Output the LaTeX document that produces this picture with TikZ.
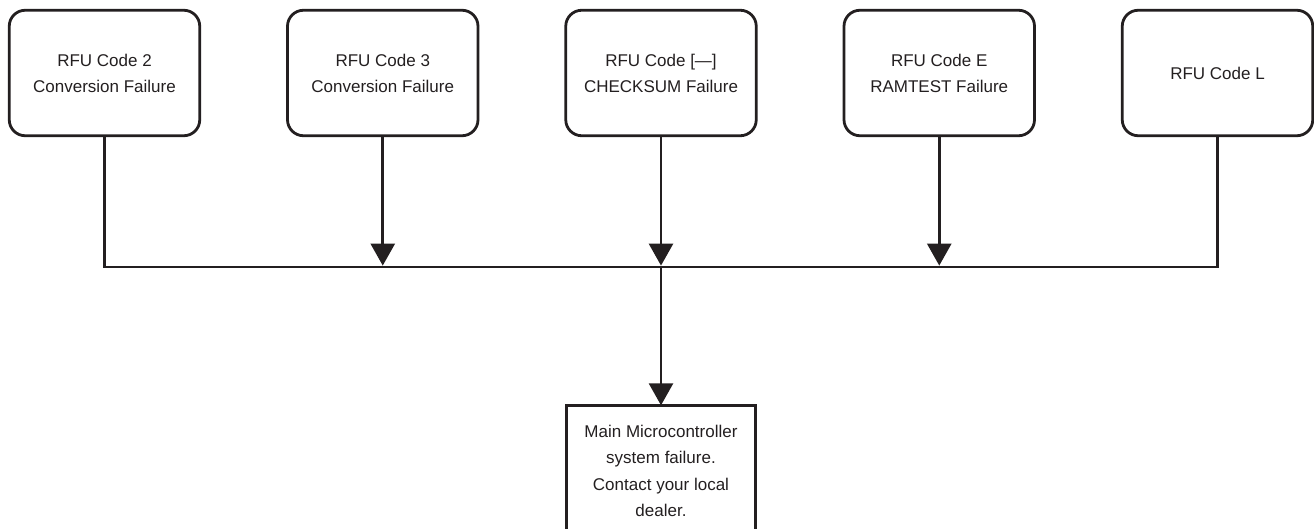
\documentclass[tikz,border=0pt]{standalone}
\usepackage{fontspec}
\setmainfont{Liberation Sans}
\usetikzlibrary{arrows.meta}
\definecolor{ink}{RGB}{35,31,32}
\tikzset{
  codebox/.style={draw=ink, line width=2.8pt, rounded corners=16pt, minimum width=190.5pt, minimum height=125.5pt, inner sep=0pt, outer sep=0pt, align=center, font=\fontsize{17}{26}\selectfont, text=ink},
  endbox/.style={draw=ink, line width=2.8pt, minimum width=189.5pt, inner xsep=0pt, inner ysep=19.5pt, outer sep=0pt, align=center, font=\fontsize{17}{26.6}\selectfont, text=ink, anchor=north},
  conn/.style={draw=ink, line width=2.8pt},
  arr/.style={conn, -{Triangle[length=22pt,width=24pt]}}
}
\begin{document}
\begin{tikzpicture}[x=1pt,y=-1pt]
\useasboundingbox (0,0) rectangle (1314,529);
\clip (0,0) rectangle (1314,529);
\node[codebox] (b1) at (104.5,73) {RFU Code 2\\Conversion Failure};
\node[codebox] (b2) at (382.75,73) {RFU Code 3\\Conversion Failure};
\node[codebox] (b3) at (661,73) {RFU Code [—]\\CHECKSUM Failure};
\node[codebox] (b4) at (939.25,73) {RFU Code E\\RAMTEST Failure};
\node[codebox] (b5) at (1217.5,73) {RFU Code L};
\coordinate (j) at (661,267);
\node[endbox] (m) at (661,405.3) {Main Microcontroller\\system failure.\\Contact your local\\dealer.};
\draw[conn] (b1.south) |- (j) -| (b5.south);
\draw[arr, shorten >=1.4pt] (b2.south) -- (b2.south |- j);
\draw[arr, shorten >=1.4pt] (b3.south) -- (j);
\draw[arr, shorten >=1.4pt] (b4.south) -- (b4.south |- j);
\draw[arr] (j) -- (m.north);
\end{tikzpicture}
\end{document}
